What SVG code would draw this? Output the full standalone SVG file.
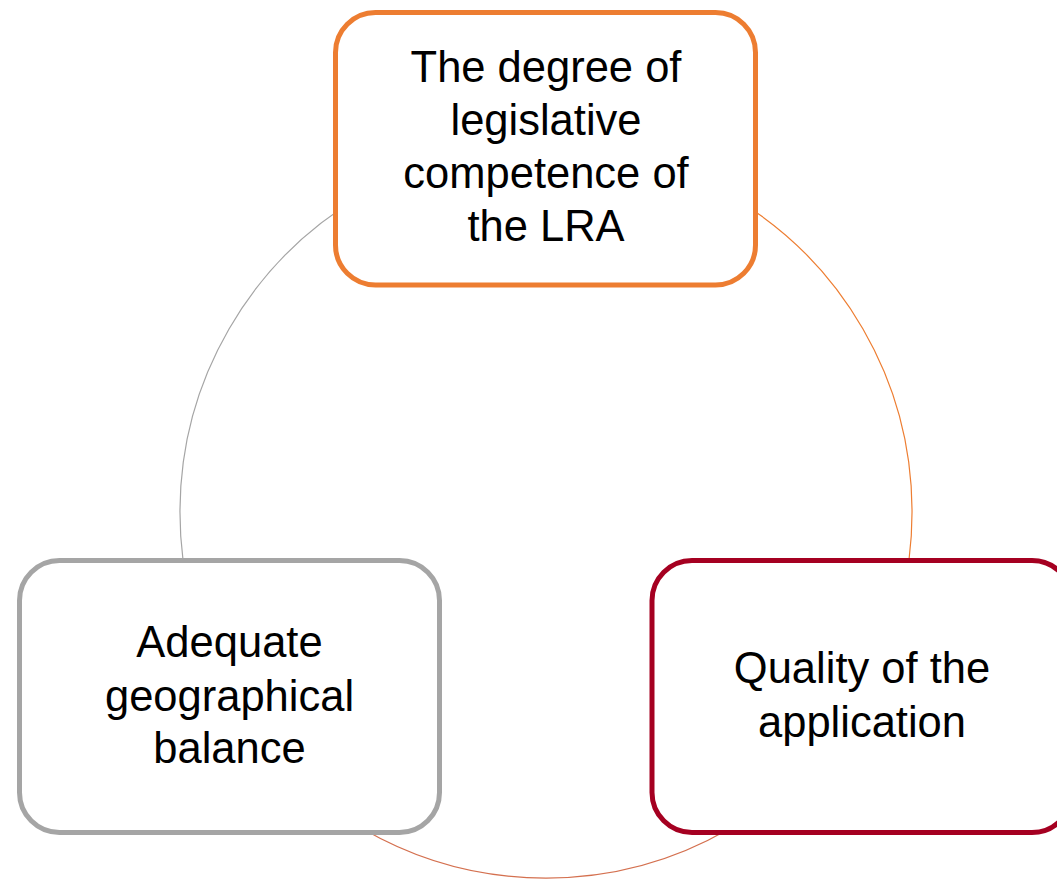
<svg xmlns="http://www.w3.org/2000/svg" width="1057" height="879" viewBox="0 0 1057 879">
<style>
.box{fill:#ffffff;stroke-width:5}
.lbl{font-family:"Liberation Sans",Arial,sans-serif;font-size:43.5px;fill:#000000;text-anchor:middle}
.arc{fill:none;stroke-width:1.2}
</style>
<rect width="1057" height="879" fill="#ffffff"/>
<g id="connectors">
<path class="arc" d="M 229 695 A 366 366 0 0 1 546 146" stroke="#a5a5a5"/>
<path class="arc" d="M 546 146 A 366 366 0 0 1 863 695" stroke="#ed7d31"/>
<path class="arc" d="M 863 695 A 366 366 0 0 1 229 695" stroke="#d4704f"/>
</g>
<g id="node-top">
<rect class="box" x="335.5" y="12.5" width="420" height="272.5" rx="40" stroke="#ed7d31"/>
<text class="lbl" x="546" y="82">The degree of</text>
<text class="lbl" x="546" y="135">legislative</text>
<text class="lbl" x="546" y="188">competence of</text>
<text class="lbl" x="546" y="241">the LRA</text>
</g>
<g id="node-left">
<rect class="box" x="19.5" y="560.5" width="420" height="272" rx="40" stroke="#a5a5a5"/>
<text class="lbl" x="229.5" y="657">Adequate</text>
<text class="lbl" x="229.5" y="711">geographical</text>
<text class="lbl" x="229.5" y="763">balance</text>
</g>
<g id="node-right">
<rect class="box" x="652" y="560.5" width="420" height="272" rx="40" stroke="#a50021"/>
<text class="lbl" x="862" y="683">Quality of the</text>
<text class="lbl" x="862" y="737">application</text>
</g>
</svg>
